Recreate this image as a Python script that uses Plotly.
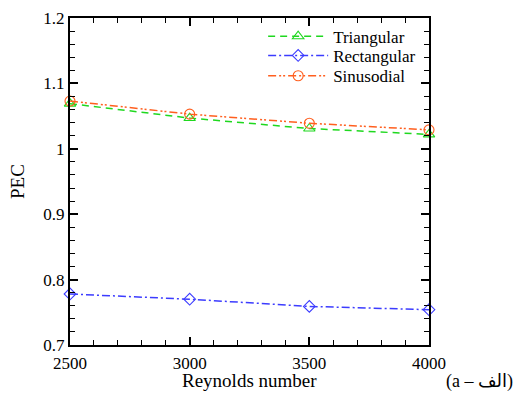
import plotly.graph_objects as go

reynolds = [2500, 3000, 3500, 4000]
triangular = [1.069, 1.047, 1.031, 1.022]
rectangular = [0.778, 0.770, 0.759, 0.754]
sinusodial = [1.073, 1.053, 1.039, 1.029]

series = [
    ("Triangular", triangular, "#1fd81f", "7px,5px", "triangle-up-open", 10, "legend", 0.943),
    ("Rectangular", rectangular, "#3c3cff", "8px,3px,2px,3px", "diamond-open", 9, "legend2", 0.884),
    ("Sinusodial", sinusodial, "#ff5f1f", "8px,3px,2px,2px,2px,3px", "circle-open", 10, "legend3", 0.822),
]

font_family = "Liberation Serif"

fig = go.Figure()
legends = {}
for name, vals, color, dash, sym, msize, leg, ly in series:
    fig.add_trace(go.Scatter(
        x=reynolds, y=vals, name=name, mode="lines+markers", legend=leg,
        line=dict(color=color, width=1.5, dash=dash),
        marker=dict(symbol=sym, size=msize, color=color, line=dict(color=color, width=1.1)),
        cliponaxis=False,
    ))
    legends[leg] = dict(
        x=0.538, y=ly, xanchor="left", yanchor="middle",
        bgcolor="rgba(0,0,0,0)", font=dict(size=17, family=font_family),
        itemwidth=60,
    )

fig.update_layout(
    width=522, height=396,
    margin=dict(l=70, r=93, t=18, b=50.5, autoexpand=False),
    paper_bgcolor="white", plot_bgcolor="white",
    font=dict(family=font_family, size=17, color="black"),
    showlegend=True,
    **legends,
    xaxis=dict(
        range=[2500, 4000], tickvals=[2500, 3000, 3500, 4000],
        ticks="inside", ticklen=8, tickwidth=1.5, tickcolor="black",
        showline=True, linewidth=2.2, linecolor="black", mirror="allticks",
        showgrid=False, zeroline=False, ticklabelstandoff=1, automargin=False,
        minor=dict(dtick=100, ticks="inside", ticklen=5, tickwidth=1.2, tickcolor="black", showgrid=False),
        tickfont=dict(size=17, family=font_family),
    ),
    yaxis=dict(
        range=[0.7, 1.2], tickvals=[0.7, 0.8, 0.9, 1.0, 1.1, 1.2],
        ticktext=["0.7", "0.8", "0.9", "1", "1.1", "1.2"],
        ticks="inside", ticklen=8, tickwidth=1.5, tickcolor="black",
        showline=True, linewidth=2.2, linecolor="black", mirror="allticks",
        showgrid=False, zeroline=False, automargin=False,
        minor=dict(dtick=0.02, ticks="inside", ticklen=5, tickwidth=1.2, tickcolor="black", showgrid=False),
        tickfont=dict(size=17, family=font_family),
        title=dict(text="PEC", font=dict(size=19, family=font_family), standoff=14),
    ),
    annotations=[
        dict(text="Reynolds number", xref="paper", yref="paper", x=0.5, y=-0.11,
             xanchor="center", yanchor="middle", showarrow=False,
             font=dict(size=19, family=font_family)),
        dict(text="(a – الف)", xref="paper", yref="paper", x=1.2396, y=-0.112,
             xanchor="right", yanchor="middle", showarrow=False,
             font=dict(size=18, family="Liberation Serif, DejaVu Sans, serif")),
    ],
)

fig.write_html("out.html")
